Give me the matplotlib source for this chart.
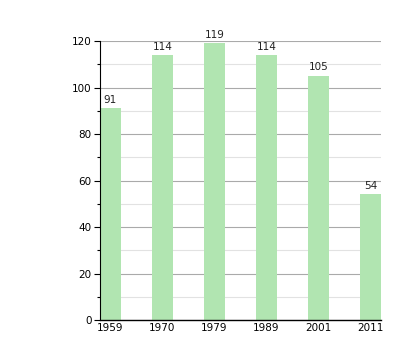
import numpy as np
import matplotlib.pyplot as plt
from matplotlib.ticker import MultipleLocator

# ===========================
# Dados
# ===========================
anos = ["1959", "1970", "1979", "1989", "2001", "2011"]
valores = [91, 114, 119, 114, 105, 54]

# ===========================
# Figura
# ===========================
fig = plt.figure(figsize=(4.2, 3.6), dpi=100)
ax = fig.add_axes([0.238, 0.111, 0.669, 0.775])

x = np.arange(len(anos))
ax.bar(x, valores, width=0.4, color="#b1e5b1", zorder=2)

for xi, v in zip(x, valores):
    ax.text(xi, v + 1.5, str(v), ha="center", va="bottom", fontsize=7.5, color="#222222")

ax.set_xlim(-0.2, len(anos) - 0.8)
ax.set_ylim(0, 120)
ax.set_xticks(x)
ax.set_xticklabels(anos)
ax.yaxis.set_major_locator(MultipleLocator(20))
ax.yaxis.set_minor_locator(MultipleLocator(10))

ax.grid(axis="y", which="major", color="#aaaaaa", linewidth=0.8, zorder=0)
ax.grid(axis="y", which="minor", color="#e2e2e2", linewidth=0.8, zorder=0)

for s in ["top", "right"]:
    ax.spines[s].set_visible(False)
ax.spines["left"].set_linewidth(0.8)
ax.spines["bottom"].set_linewidth(1.0)

ax.tick_params(axis="y", which="major", length=4, width=0.8, labelsize=7.5, pad=2)
ax.tick_params(axis="y", which="minor", length=2, width=0.8)
ax.tick_params(axis="x", length=0, labelsize=7.5, pad=2)

fig.savefig("out.png", dpi=100)
